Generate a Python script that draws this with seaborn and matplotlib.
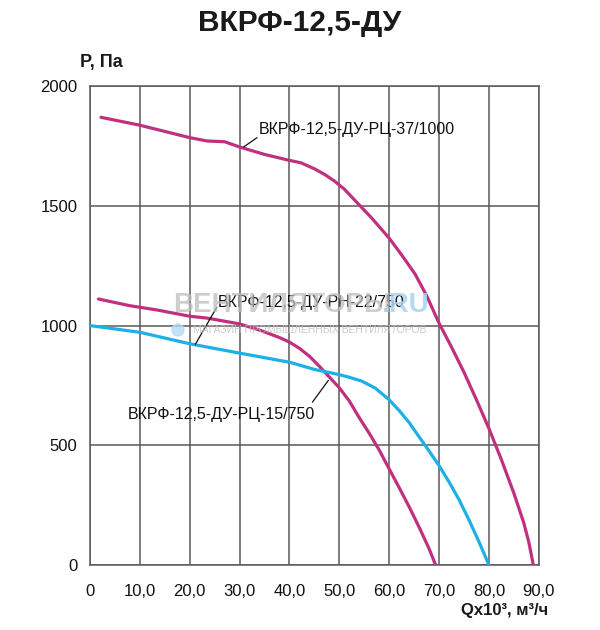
import numpy as np
import pandas as pd
import matplotlib.pyplot as plt
import seaborn as sns
from matplotlib.patches import Ellipse


# Curve values (Q in thousands m3/h, P in Pa)
q_37 = [2.2, 10, 20, 23.5, 27, 30, 35, 40, 42.3, 45, 47, 49, 51, 54, 56.5, 60, 62.5, 65.2, 67.5,
        70, 72.5, 75, 77.5, 80, 82.5, 85, 87, 88, 88.9]
p_37 = [1870, 1837, 1785, 1771, 1768, 1746, 1715, 1690, 1680, 1655, 1632, 1604, 1570, 1504, 1449,
        1365, 1295, 1215, 1125, 1010, 910, 805, 690, 570, 440, 300, 175, 95, 0]

q_22 = [1.7, 8, 13.5, 20, 23.6, 30, 34.3, 38, 40, 42, 44, 46, 48, 50, 52, 54, 56, 58, 60,
        62, 64, 66, 68, 69.3]
p_22 = [1111, 1083, 1065, 1039, 1031, 1007, 979, 950, 931, 905, 872, 830, 785, 740, 685, 615,
        550, 480, 401, 323, 243, 158, 68, 0]

q_15 = [0, 10, 20, 30, 40, 45, 50, 52, 54.5, 57.2, 60, 62, 64, 66, 67.2, 70, 72, 74, 76, 78, 80]
p_15 = [1000, 972, 924, 885, 847, 817, 795, 784, 768, 739, 690, 645, 595, 535, 500, 415, 347,
        273, 188, 97, 0]

names = ["ВКРФ-12,5-ДУ-РЦ-37/1000", "ВКРФ-12,5-ДУ-РН-22/750", "ВКРФ-12,5-ДУ-РЦ-15/750"]
colors = ["#c1307f", "#c1307f", "#1cb0e6"]

x_ticks = [0, 10, 20, 30, 40, 50, 60, 70, 80, 90]
x_labels = ["0", "10,0", "20,0", "30,0", "40,0", "50,0", "60,0", "70,0", "80,0", "90,0"]
y_ticks = [0, 500, 1000, 1500, 2000]

# label positions: (curve point, leader end, text point, alignment)
leaders = [
    ((30.8, 1746), (33.5, 1785), (33.9, 1821), "left"),
    ((21.1, 921), (25.4, 1076), (25.7, 1097), "left"),
    ((47.8, 771), (44.6, 680), (45.2, 629), "right"),
]


# Builds one long dataframe with all three fan curves
def buildData():
    frames = []
    for q, p, n in zip([q_37, q_22, q_15], [p_37, p_22, p_15], names):
        frames.append(pd.DataFrame({"Q": q, "P": p, "fan": n}))
    return pd.concat(frames, ignore_index=True)


def drawChart(df):
    sns.set_theme(style="white")
    plt.rcParams["font.family"] = ["Liberation Sans", "DejaVu Sans"]

    fig = plt.figure(figsize=(6, 6.3), dpi=100)
    ax = fig.add_axes([0.15, 0.1032, 0.748, 0.760])

    # watermark of the shop
    fig.text(173 / 600, 1 - 305 / 630, "ВЕНТИЛЯТОРЫ", fontsize=20, fontweight="bold",
             color="#bdbdbd", alpha=0.75, ha="left", va="center", zorder=1)
    fig.text(429 / 600, 1 - 305 / 630, ".RU", fontsize=20, fontweight="bold",
             color="#a9d3f2", alpha=0.85, ha="right", va="center", zorder=1)
    fig.text(193 / 600, 1 - 330 / 630, "МАГАЗИН ПРОМЫШЛЕННЫХ ВЕНТИЛЯТОРОВ", fontsize=7.5,
             color="#bdbdbd", alpha=0.8, ha="left", va="center", zorder=1)
    fig.patches.append(Ellipse((178 / 600, 1 - 330 / 630), 12 / 600, 12 / 630,
                               transform=fig.transFigure, color="#b5dbf5", alpha=0.8, zorder=1))

    sns.lineplot(data=df, x="Q", y="P", hue="fan", palette=dict(zip(names, colors)),
                 linewidth=2.3, legend=False, sort=False, ax=ax, zorder=3,
                 solid_joinstyle="round")

    ax.set_xlim(0, 90)
    ax.set_ylim(0, 2000)
    ax.set_xticks(x_ticks)
    ax.set_xticklabels(x_labels)
    ax.set_yticks(y_ticks)
    ax.set_xlabel("")
    ax.set_ylabel("")
    ax.grid(True, color="#5a5a5a", linewidth=1.1)
    for s in ax.spines.values():
        s.set_color("#5a5a5a")
        s.set_linewidth(1.1)
    ax.tick_params(axis="both", length=0, labelsize=12, labelcolor="#111111")
    ax.tick_params(axis="x", pad=14)
    ax.tick_params(axis="y", pad=9)
    ax.patch.set_alpha(0)

    for (pt, end, txt, ha), n in zip(leaders, names):
        ax.annotate("", xy=pt, xytext=end,
                    arrowprops=dict(arrowstyle="-", color="#111111", lw=0.9, shrinkA=0, shrinkB=0))
        ax.text(txt[0], txt[1], n, fontsize=11.5, ha=ha, va="center", color="#111111", zorder=4)

    fig.text(0.5, 1 - 23 / 630, "ВКРФ-12,5-ДУ", fontsize=21.5, fontweight="bold",
             ha="center", va="center", color="#1a1a1a")
    fig.text(80 / 600, 1 - 62 / 630, "P, Па", fontsize=13, fontweight="bold",
             ha="left", va="center", color="#1a1a1a")
    fig.text(548 / 600, 1 - 610 / 630, "Qx10³, м³/ч", fontsize=12, fontweight="bold",
             ha="right", va="center", color="#1a1a1a")

    fig.savefig("out.png", dpi=100)


if __name__ == "__main__":
    df = buildData()
    drawChart(df)
